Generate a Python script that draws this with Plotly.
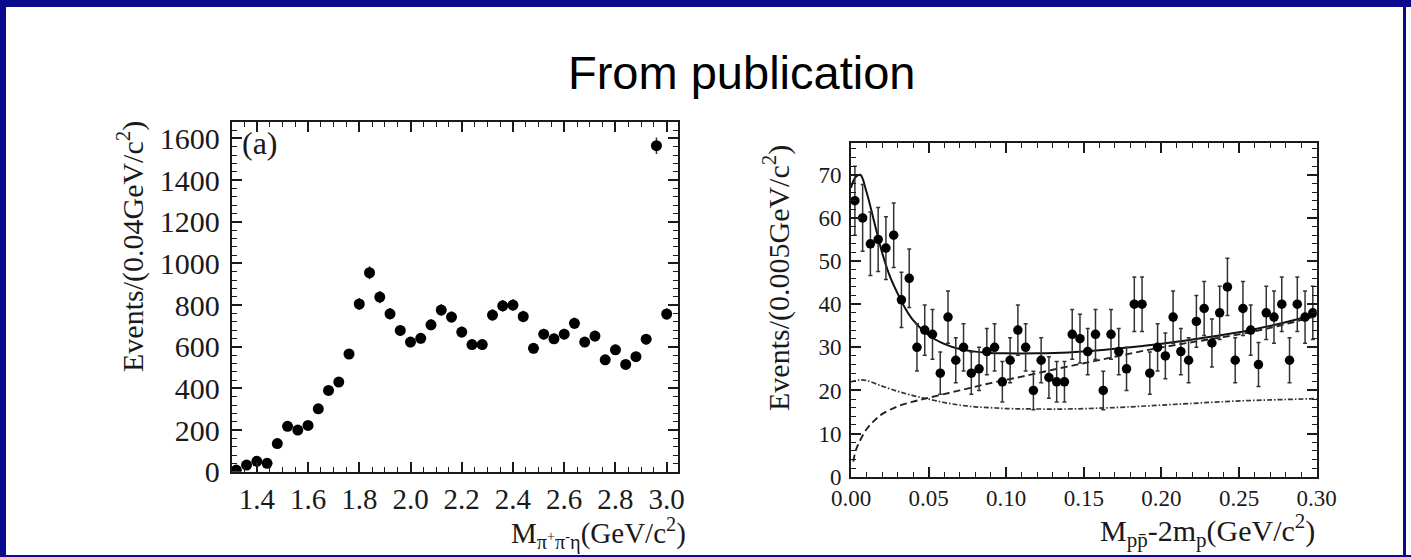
import numpy as np
import plotly.graph_objects as go

# ---- panel (a): M(pi+ pi- eta) spectrum, 0.04 GeV bins ----
mass_a = [1.32, 1.36, 1.40, 1.44, 1.48, 1.52, 1.56, 1.60, 1.64, 1.68, 1.72,
          1.76, 1.80, 1.84, 1.88, 1.92, 1.96, 2.00, 2.04, 2.08, 2.12, 2.16,
          2.20, 2.24, 2.28, 2.32, 2.36, 2.40, 2.44, 2.48, 2.52, 2.56, 2.60,
          2.64, 2.68, 2.72, 2.76, 2.80, 2.84, 2.88, 2.92, 2.96, 3.00]
events_a = [8, 32, 50, 40, 135, 218, 200, 222, 302, 390, 430,
            565, 805, 955, 838, 758, 678, 622, 640, 705, 776, 742,
            670, 610, 610, 752, 796, 800, 745, 592, 660, 638, 660,
            712, 622, 651, 537, 585, 515, 552, 636, 1565, 757]

# ---- panel (b): M(p pbar) - 2m_p, 0.005 GeV bins ----
mass_b = [0.0025, 0.0075, 0.0125, 0.0175, 0.0225, 0.0275, 0.0325, 0.0375,
          0.0425, 0.0475, 0.0525, 0.0575, 0.0625, 0.0675, 0.0725, 0.0775,
          0.0825, 0.0875, 0.0925, 0.0975, 0.1025, 0.1075, 0.1125, 0.1175,
          0.1225, 0.1275, 0.1325, 0.1375, 0.1425, 0.1475, 0.1525, 0.1575,
          0.1625, 0.1675, 0.1725, 0.1775, 0.1825, 0.1875, 0.1925, 0.1975,
          0.2025, 0.2075, 0.2125, 0.2175, 0.2225, 0.2275, 0.2325, 0.2375,
          0.2425, 0.2475, 0.2525, 0.2575, 0.2625, 0.2675, 0.2725, 0.2775,
          0.2825, 0.2875, 0.2925, 0.2975]
events_b = [64, 60, 54, 55, 53, 56, 41, 46, 30, 34, 33, 24, 37, 27, 30, 24,
            25, 29, 30, 22, 27, 34, 30, 20, 27, 23, 22, 22, 33, 32, 29, 33,
            20, 33, 29, 25, 40, 40, 24, 30, 28, 37, 29, 27, 36, 39, 31, 38,
            44, 27, 39, 34, 26, 38, 37, 40, 27, 40, 37, 38]

# fit curves for panel (b)
fit_x = [0.0, 0.003, 0.006, 0.01, 0.015, 0.02, 0.025, 0.03, 0.035, 0.04,
         0.05, 0.06, 0.07, 0.08, 0.09, 0.10, 0.12, 0.14, 0.16, 0.18, 0.20,
         0.22, 0.24, 0.26, 0.28, 0.30]
fit_total = [67, 69.5, 70, 66, 59, 52, 46.5, 42.5, 39, 36.3,
             32.8, 30.8, 29.6, 29, 28.7, 28.6, 28.6, 28.8, 29.3, 30, 30.8,
             31.8, 32.9, 34.2, 35.8, 37.8]
bkg_x = [0.0015, 0.003, 0.006, 0.01, 0.015, 0.02, 0.03, 0.04, 0.05, 0.07,
         0.09, 0.11, 0.13, 0.15, 0.17, 0.19, 0.21, 0.23, 0.25, 0.27, 0.29, 0.30]
bkg_y = [3.5, 6, 8.5, 11, 13, 14.5, 16.3, 17.4, 18.3, 20,
         21.7, 23.2, 24.8, 26.3, 27.8, 29.3, 30.6, 31.8, 33, 34.5, 36.3, 37.3]
other_x = [0.0, 0.005, 0.01, 0.02, 0.03, 0.04, 0.05, 0.06, 0.07, 0.08, 0.09,
           0.10, 0.12, 0.14, 0.16, 0.18, 0.20, 0.22, 0.24, 0.26, 0.28, 0.30]
other_y = [22, 22.4, 22.3, 21, 19.8, 18.8, 18, 17.2, 16.6, 16.2, 16,
           15.8, 15.7, 15.7, 15.9, 16.2, 16.6, 17, 17.4, 17.7, 17.9, 18.1]

W, H = 1411, 557
SERIF = "Liberation Serif, Times New Roman, serif"
INK = "#1a1a1a"
NAVY = "#0a0a8c"


def px_x(v):
    return v / W


def px_y(v):
    return 1 - v / H


fig = go.Figure()

fig.add_trace(go.Scatter(
    x=mass_a, y=events_a, mode="markers",
    marker=dict(size=11, color="black"),
    error_y=dict(type="data", array=np.sqrt(events_a), color="#333",
                 thickness=1.5, width=0),
    xaxis="x", yaxis="y", showlegend=False))

fig.add_trace(go.Scatter(
    x=other_x, y=other_y, mode="lines", line_shape="spline",
    line=dict(color="#333", width=1.7, dash="5px,2px,1.5px,2px"),
    xaxis="x2", yaxis="y2", showlegend=False))
fig.add_trace(go.Scatter(
    x=bkg_x, y=bkg_y, mode="lines", line_shape="spline",
    line=dict(color="#222", width=1.9, dash="7px,4px"),
    xaxis="x2", yaxis="y2", showlegend=False))
fig.add_trace(go.Scatter(
    x=fit_x, y=fit_total, mode="lines", line_shape="spline",
    line=dict(color="#111", width=2),
    xaxis="x2", yaxis="y2", showlegend=False))
fig.add_trace(go.Scatter(
    x=mass_b, y=events_b, mode="markers",
    marker=dict(size=9.5, color="black"),
    error_y=dict(type="data", array=np.sqrt(events_b), color="#333",
                 thickness=1.5, width=2),
    xaxis="x2", yaxis="y2", showlegend=False))

# framed axes with inside ticks on all four sides; no automatic margin push
axis_common = dict(showgrid=False, zeroline=False, showline=True,
                   linecolor=INK, linewidth=2, mirror="ticks",
                   ticks="inside", tickcolor=INK, tickwidth=1.5,
                   automargin=False)

fig.update_layout(
    width=W, height=H, autosize=False,
    margin=dict(l=0, r=0, t=0, b=0, pad=0),
    paper_bgcolor="white", plot_bgcolor="white",
    xaxis=dict(domain=[px_x(231.7), px_x(677.7)], range=[1.302, 3.043],
               anchor="y", tick0=1.4, dtick=0.2, tickformat=".1f", ticklen=10,
               minor=dict(dtick=0.05, ticks="inside", ticklen=5,
                          tickcolor=INK, tickwidth=1.2),
               tickfont=dict(family=SERIF, size=29, color=INK),
               **axis_common),
    yaxis=dict(domain=[px_y(471.7), px_y(121.7)], range=[0, 1680],
               anchor="x", tick0=0, dtick=200, ticklen=10,
               ticklabelstandoff=4,
               minor=dict(dtick=40, ticks="inside", ticklen=5,
                          tickcolor=INK, tickwidth=1.2),
               tickfont=dict(family=SERIF, size=30, color=INK),
               **axis_common),
    xaxis2=dict(domain=[px_x(851), px_x(1316.7)], range=[0, 0.3],
                anchor="y2", tick0=0, dtick=0.05, tickformat=".2f", ticklen=10,
                minor=dict(dtick=0.01, ticks="inside", ticklen=5,
                           tickcolor=INK, tickwidth=1.2),
                tickfont=dict(family=SERIF, size=23, color=INK),
                **axis_common),
    yaxis2=dict(domain=[px_y(476.7), px_y(143.3)], range=[0, 77.3],
                anchor="x2", tick0=0, dtick=10, ticklen=10,
                ticklabelstandoff=3,
                minor=dict(dtick=2, ticks="inside", ticklen=5,
                           tickcolor=INK, tickwidth=1.2),
                tickfont=dict(family=SERIF, size=23, color=INK),
                **axis_common),
)

annotations = [
    dict(text="From publication", x=px_x(741), y=px_y(73),
         font=dict(family="Liberation Sans, Arial, sans-serif", size=47,
                   color="black")),
    dict(text="(a)", x=px_x(240), y=px_y(143), xanchor="left",
         font=dict(family=SERIF, size=32, color=INK)),
    dict(text="Events/(0.04GeV/c<sup>2</sup>)", x=px_x(131), y=px_y(247),
         textangle=-90, font=dict(family=SERIF, size=30, color=INK)),
    dict(text="M<sub>π<sup>+</sup>π<sup>-</sup>η</sub>(GeV/c<sup>2</sup>)",
         x=px_x(688), y=px_y(533), xanchor="right",
         font=dict(family=SERIF, size=29, color=INK)),
    dict(text="Events/(0.005GeV/c<sup>2</sup>)", x=px_x(776), y=px_y(278),
         textangle=-90, font=dict(family=SERIF, size=30, color=INK)),
    dict(text="M<sub>pp\u0304</sub>-2m<sub>p</sub>(GeV/c<sup>2</sup>)",
         x=px_x(1317), y=px_y(530), xanchor="right",
         font=dict(family=SERIF, size=30, color=INK)),
]
for a in annotations:
    a.setdefault("xanchor", "center")
    a.setdefault("yanchor", "middle")
    a.update(xref="paper", yref="paper", showarrow=False)
fig.update_layout(annotations=annotations)

# slide frame
frame = [
    (0, 0, W, 7),        # top band
    (0, 0, 6, H),        # left band
    (0, H - 2, W, H),    # bottom rule
    (1403, 0, 1406, H),  # right rule
]
fig.update_layout(shapes=[
    dict(type="rect", xref="paper", yref="paper",
         x0=px_x(x0), x1=px_x(x1), y0=px_y(y1), y1=px_y(y0),
         fillcolor=NAVY, line=dict(width=0), layer="above")
    for x0, y0, x1, y1 in frame
])

fig.write_html("out.html")
